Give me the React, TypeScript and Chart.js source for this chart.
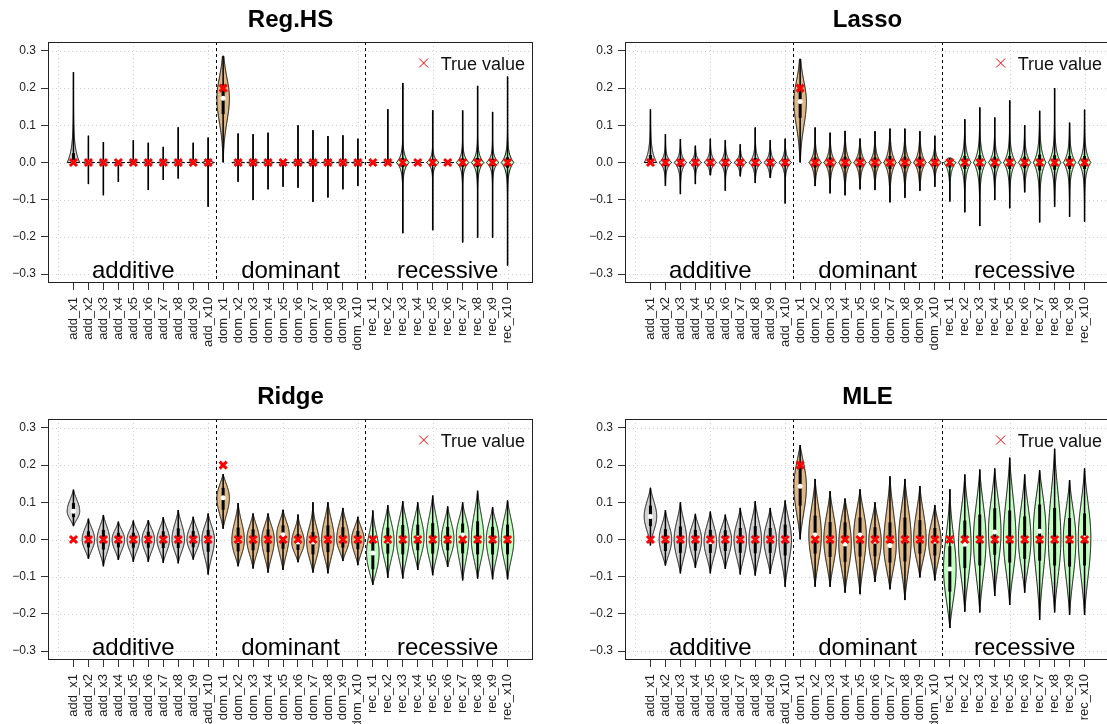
import React, { useEffect, useRef } from 'react';
import { Chart, registerables } from 'chart.js';

Chart.register(...registerables);

const FONT = "'Liberation Sans', Arial, Helvetica, sans-serif";

// ---------- data ----------
const categories = [
  'add_x1', 'add_x2', 'add_x3', 'add_x4', 'add_x5', 'add_x6', 'add_x7', 'add_x8', 'add_x9', 'add_x10',
  'dom_x1', 'dom_x2', 'dom_x3', 'dom_x4', 'dom_x5', 'dom_x6', 'dom_x7', 'dom_x8', 'dom_x9', 'dom_x10',
  'rec_x1', 'rec_x2', 'rec_x3', 'rec_x4', 'rec_x5', 'rec_x6', 'rec_x7', 'rec_x8', 'rec_x9', 'rec_x10',
];

const trueValues = [
  0, 0, 0, 0, 0, 0, 0, 0, 0, 0,
  0.2, 0, 0, 0, 0, 0, 0, 0, 0, 0,
  0, 0, 0, 0, 0, 0, 0, 0, 0, 0,
];

const groupNames = ['additive', 'dominant', 'recessive'];
const groupLabelPositions = [5, 15.5, 26];
const groupSeparators = [10.5, 20.5];
const groupColors = ['#d3d3d3', '#deb887', '#c1ffc1'];

const yTickValues = [-0.3, -0.2, -0.1, 0, 0.1, 0.2, 0.3];
const yTickLabels = ['\u22120.3', '\u22120.2', '\u22120.1', '0.0', '0.1', '0.2', '0.3'];
const xGridValues = [0, 5, 10, 15, 20, 25, 30];
const legendLabel = 'True value';

// Reg.HS
const regHsMin = [0, -0.058, -0.088, -0.052, 0, -0.074, -0.047, -0.043, 0, -0.119,
  0, -0.052, -0.101, -0.072, -0.065, -0.068, -0.106, -0.094, -0.072, -0.063,
  0, 0, -0.19, 0, -0.182, 0, -0.215, -0.202, -0.202, -0.277];
const regHsMax = [0.243, 0.072, 0.055, 0, 0.06, 0.053, 0.042, 0.095, 0.053, 0.067,
  0.286, 0.078, 0.076, 0.08, 0, 0.1, 0.087, 0.071, 0.073, 0.064,
  0, 0.143, 0.214, 0, 0.14, 0, 0.14, 0.206, 0.136, 0.231];
const regHsMedian = [0, 0, 0, 0, 0, 0, 0, 0, 0, 0,
  0.173, 0, 0, 0, 0, 0, 0, 0, 0, 0,
  0, 0, 0, 0, 0, 0, 0, 0, 0, 0];
const regHsQ1 = [0, -0.0015, -0.0015, -0.0015, 0, -0.0015, -0.0015, -0.0015, 0, -0.003,
  0.13, -0.0015, -0.002, -0.002, -0.0015, -0.0025, -0.0025, -0.002, -0.002, -0.002,
  0, 0, -0.0125, 0, -0.0085, 0, -0.011, -0.0125, -0.01, -0.014];
const regHsQ3 = [0.025, 0.0015, 0.0015, 0, 0.0015, 0.0015, 0.0015, 0.0015, 0.0015, 0.003,
  0.21, 0.0015, 0.002, 0.002, 0, 0.0025, 0.0025, 0.002, 0.002, 0.002,
  0, 0.0015, 0.0125, 0, 0.0085, 0, 0.011, 0.0125, 0.01, 0.014];

// Lasso
const lassoMin = [0, -0.063, -0.085, -0.058, -0.034, -0.076, -0.037, -0.055, -0.041, -0.11,
  0, -0.063, -0.083, -0.088, -0.072, -0.074, -0.107, -0.095, -0.076, -0.065,
  -0.105, -0.134, -0.171, -0.101, -0.123, -0.08, -0.161, -0.119, -0.146, -0.159];
const lassoMax = [0.143, 0.076, 0.063, 0.045, 0.064, 0.06, 0.049, 0.094, 0.06, 0.064,
  0.278, 0.094, 0.08, 0.085, 0.064, 0.084, 0.091, 0.091, 0.084, 0.072,
  0.012, 0.116, 0.148, 0.121, 0.167, 0.1, 0.139, 0.2, 0.107, 0.142];
const lassoMedian = [0, 0, 0, 0, 0, 0, 0, 0, 0, 0,
  0.164, 0, 0, 0, 0, 0, 0, 0, 0, 0,
  0, 0, 0, 0, 0, 0, 0, 0, 0, 0];
const lassoQ1 = [0, -0.01, -0.012, -0.008, -0.008, -0.01, -0.008, -0.01, -0.01, -0.01,
  0.12, -0.0135, -0.0135, -0.0155, -0.0135, -0.0135, -0.0175, -0.0155, -0.0155, -0.01,
  -0.0135, -0.0175, -0.0195, -0.0155, -0.0175, -0.0155, -0.0215, -0.0195, -0.0175, -0.0175];
const lassoQ3 = [0.02, 0.01, 0.01, 0.008, 0.01, 0.01, 0.008, 0.012, 0.01, 0.01,
  0.2, 0.0135, 0.0135, 0.0155, 0.0135, 0.0135, 0.0175, 0.0155, 0.0155, 0.01,
  0.006, 0.0175, 0.0195, 0.0155, 0.0175, 0.0155, 0.0215, 0.0195, 0.0175, 0.0175];

// Ridge
const ridgeMin = [0.036, -0.052, -0.072, -0.055, -0.06, -0.06, -0.063, -0.064, -0.054, -0.094,
  0.029, -0.072, -0.078, -0.089, -0.082, -0.061, -0.089, -0.091, -0.058, -0.069,
  -0.122, -0.103, -0.105, -0.082, -0.096, -0.074, -0.11, -0.105, -0.107, -0.107];
const ridgeMax = [0.134, 0.056, 0.066, 0.048, 0.051, 0.052, 0.06, 0.079, 0.061, 0.07,
  0.176, 0.098, 0.07, 0.07, 0.08, 0.067, 0.1, 0.1, 0.085, 0.061,
  0.078, 0.092, 0.103, 0.1, 0.118, 0.089, 0.1, 0.131, 0.087, 0.105];
const ridgeMedian = [0.076, 0, 0, 0, 0, 0, 0, 0, 0, 0,
  0.112, -0.002, 0, 0, 0.013, -0.007, -0.007, 0, 0, 0,
  -0.036, -0.004, 0, 0.004, 0, 0, 0.012, 0, 0, 0];
const ridgeQ1 = [0.06, -0.021, -0.027, -0.021, -0.022, -0.022, -0.023, -0.023, -0.021, -0.033,
  0.08, -0.032, -0.029, -0.034, -0.025, -0.028, -0.04, -0.034, -0.022, -0.026,
  -0.08, -0.038, -0.04, -0.029, -0.038, -0.029, -0.037, -0.04, -0.04, -0.04];
const ridgeQ3 = [0.098, 0.022, 0.026, 0.018, 0.018, 0.021, 0.022, 0.03, 0.023, 0.026,
  0.139, 0.032, 0.027, 0.027, 0.038, 0.015, 0.02, 0.038, 0.033, 0.023,
  0, 0.032, 0.039, 0.04, 0.044, 0.034, 0.043, 0.049, 0.034, 0.04];

// MLE
const mleMin = [-0.016, -0.07, -0.091, -0.076, -0.091, -0.079, -0.094, -0.097, -0.092, -0.127,
  0, -0.127, -0.127, -0.143, -0.147, -0.114, -0.134, -0.163, -0.102, -0.11,
  -0.238, -0.194, -0.196, -0.152, -0.176, -0.143, -0.216, -0.196, -0.203, -0.203];
const mleMax = [0.139, 0.079, 0.1, 0.069, 0.075, 0.067, 0.085, 0.103, 0.085, 0.105,
  0.254, 0.163, 0.13, 0.11, 0.135, 0.1, 0.17, 0.163, 0.144, 0.093,
  0.135, 0.175, 0.188, 0.191, 0.22, 0.175, 0.186, 0.244, 0.16, 0.191];
const mleMedian = [0.062, 0, 0, 0, -0.006, 0, 0, 0, 0, 0,
  0.143, 0.012, 0, -0.012, 0.012, -0.005, -0.016, 0, 0, -0.005,
  -0.079, -0.013, 0, 0.02, 0, 0, 0.022, 0, 0, 0.004];
const mleQ1 = [0.036, -0.031, -0.036, -0.03, -0.036, -0.031, -0.036, -0.037, -0.036, -0.043,
  0.091, -0.038, -0.047, -0.06, -0.046, -0.045, -0.062, -0.059, -0.038, -0.043,
  -0.14, -0.077, -0.07, -0.041, -0.062, -0.052, -0.057, -0.07, -0.073, -0.07];
const mleQ3 = [0.091, 0.028, 0.035, 0.026, 0.026, 0.025, 0.031, 0.036, 0.031, 0.04,
  0.193, 0.064, 0.047, 0.046, 0.059, 0.033, 0.046, 0.059, 0.052, 0.031,
  -0.018, 0.051, 0.067, 0.084, 0.078, 0.062, 0.094, 0.085, 0.058, 0.07];

type Panel = {
  title: string;
  min: number[];
  max: number[];
  median: number[];
  q1: number[];
  q3: number[];
  kernel: 'laplace' | 'gauss';
};

const panels: Panel[] = [
  { title: 'Reg.HS', min: regHsMin, max: regHsMax, median: regHsMedian, q1: regHsQ1, q3: regHsQ3, kernel: 'laplace' },
  { title: 'Lasso', min: lassoMin, max: lassoMax, median: lassoMedian, q1: lassoQ1, q3: lassoQ3, kernel: 'laplace' },
  { title: 'Ridge', min: ridgeMin, max: ridgeMax, median: ridgeMedian, q1: ridgeQ1, q3: ridgeQ3, kernel: 'gauss' },
  { title: 'MLE', min: mleMin, max: mleMax, median: mleMedian, q1: mleQ1, q3: mleQ3, kernel: 'gauss' },
];

// ---------- layout ----------
const PANEL_W = 577;
const PANEL_H = 377;
const VIOLIN_HALF = 0.42;

function kernelValue(z: number, kernel: string) {
  return kernel === 'gauss' ? Math.exp(-0.5 * z * z) : Math.exp(-z);
}

function drawViolin(ctx: CanvasRenderingContext2D, xs: any, ys: any, pos: number, lo: number, hi: number,
  med: number, q1: number, q3: number, panelKernel: string, color: string) {
  const cx = xs.getPixelForValue(pos);
  const halfPx = xs.getPixelForValue(pos + VIOLIN_HALF) - cx;
  ctx.lineWidth = 1;
  ctx.strokeStyle = '#000';
  if (hi - lo < 1e-9) {
    const py = ys.getPixelForValue(med);
    ctx.beginPath();
    ctx.moveTo(cx - halfPx, py);
    ctx.lineTo(cx + halfPx, py);
    ctx.stroke();
    return;
  }
  // spike-shaped kernel only for shrunk null effects; real effects get a rounded body
  const kernel = panelKernel === 'laplace' && Math.abs(med) > 0.05 ? 'gauss' : panelKernel;
  const tapered = panelKernel === 'gauss';
  const zq = kernel === 'gauss' ? 0.6745 : 0.6931;
  const sUp = (q3 - med) / zq;
  const sDn = (med - q1) / zq;
  const endUp = sUp > 0 && tapered ? kernelValue((hi - med) / sUp, kernel) : 0;
  const endDn = sDn > 0 && tapered ? kernelValue((med - lo) / sDn, kernel) : 0;
  const shape = (v: number) => {
    const up = v >= med;
    const s = up ? sUp : sDn;
    if (s <= 0) return Math.abs(v - med) < 1e-12 ? 1 : 0;
    const base = kernelValue(Math.abs(v - med) / s, kernel);
    const end = up ? endUp : endDn;
    return Math.max(0, (base - end) / (1 - end));
  };
  const N = 200;
  const vals: number[] = [];
  for (let k = 0; k <= N; k++) vals.push(lo + ((hi - lo) * k) / N);
  if (med > lo && med < hi) vals.push(med);
  vals.sort((a, b) => a - b);
  const f = vals.map(shape);
  const fmax = Math.max(...f, 1e-12);
  ctx.beginPath();
  vals.forEach((v, k) => {
    const px = cx - (halfPx * f[k]) / fmax;
    const py = ys.getPixelForValue(v);
    if (k === 0) ctx.moveTo(px, py); else ctx.lineTo(px, py);
  });
  for (let k = vals.length - 1; k >= 0; k--) {
    ctx.lineTo(cx + (halfPx * f[k]) / fmax, ys.getPixelForValue(vals[k]));
  }
  ctx.closePath();
  ctx.fillStyle = color;
  ctx.fill();
  ctx.stroke();
}

function makePlugin(panel: Panel) {
  return {
    id: 'panelDecor',
    beforeDatasetsDraw(chart: any) {
      const { ctx, chartArea, scales } = chart;
      const xs = scales.x;
      const ys = scales.y;
      const { left, right, top, bottom } = chartArea;
      ctx.save();
      // dotted grid
      ctx.lineWidth = 1;
      ctx.strokeStyle = '#cfcfcf';
      ctx.setLineDash([1, 3]);
      yTickValues.forEach((v) => {
        const py = Math.round(ys.getPixelForValue(v)) + 0.5;
        ctx.beginPath(); ctx.moveTo(left, py); ctx.lineTo(right, py); ctx.stroke();
      });
      xGridValues.forEach((v) => {
        const px = Math.round(xs.getPixelForValue(v)) + 0.5;
        ctx.beginPath(); ctx.moveTo(px, top); ctx.lineTo(px, bottom); ctx.stroke();
      });
      // group separators
      ctx.strokeStyle = '#000';
      ctx.setLineDash([3, 3]);
      groupSeparators.forEach((v) => {
        const px = Math.round(xs.getPixelForValue(v)) + 0.5;
        ctx.beginPath(); ctx.moveTo(px, top); ctx.lineTo(px, bottom); ctx.stroke();
      });
      ctx.setLineDash([]);
      // violins
      categories.forEach((_, i) => {
        drawViolin(ctx, xs, ys, i + 1, panel.min[i], panel.max[i], panel.median[i],
          panel.q1[i], panel.q3[i], panel.kernel, groupColors[Math.floor(i / 10)]);
      });
      // frame
      ctx.strokeStyle = '#222';
      ctx.lineWidth = 1;
      ctx.strokeRect(Math.round(left) + 0.5, Math.round(top) + 0.5,
        Math.round(right - left) - 1, Math.round(bottom - top) - 1);
      ctx.restore();
    },
    afterDatasetsDraw(chart: any) {
      const { ctx, chartArea, scales } = chart;
      const xs = scales.x;
      const ys = scales.y;
      const { left, right, top } = chartArea;
      ctx.save();
      // group labels
      ctx.fillStyle = '#000';
      ctx.font = `24px ${FONT}`;
      ctx.textAlign = 'center';
      ctx.textBaseline = 'alphabetic';
      groupNames.forEach((g, k) => {
        ctx.fillText(g, xs.getPixelForValue(groupLabelPositions[k]), ys.getPixelForValue(-0.3) + 4);
      });
      // title
      ctx.font = `bold 24px ${FONT}`;
      ctx.fillText(panel.title, (left + right) / 2, 27);
      // legend
      ctx.font = `18px ${FONT}`;
      ctx.textAlign = 'right';
      const tx = right - 8;
      ctx.fillStyle = '#111';
      ctx.fillText(legendLabel, tx, top + 28);
      const tw = ctx.measureText(legendLabel).width;
      const mx = tx - tw - 17;
      const my = top + 21;
      ctx.strokeStyle = '#ff0000';
      ctx.lineWidth = 1;
      ctx.beginPath();
      ctx.moveTo(mx - 4.5, my - 4.5); ctx.lineTo(mx + 4.5, my + 4.5);
      ctx.moveTo(mx + 4.5, my - 4.5); ctx.lineTo(mx - 4.5, my + 4.5);
      ctx.stroke();
      ctx.restore();
    },
  };
}

function ViolinPanel({ panel, left, top }: { panel: Panel; left: number; top: number }) {
  const ref = useRef<HTMLCanvasElement | null>(null);
  useEffect(() => {
    if (!ref.current) return;
    const xsPos = categories.map((_, i) => i + 1);
    const whiskers = xsPos.map((x, i) => ({ x, y: [panel.min[i], panel.max[i]] }));
    const boxes = xsPos.map((x, i) => ({ x, y: [panel.q1[i], panel.q3[i]] }));
    const medians = xsPos.map((x, i) => ({ x, y: panel.median[i] }));
    const truth = xsPos.map((x, i) => ({ x, y: trueValues[i] }));
    const chart = new Chart(ref.current, {
      type: 'bar',
      data: {
        datasets: [
          { type: 'bar', data: whiskers as any, backgroundColor: '#000', borderWidth: 0, inflateAmount: 0, barThickness: 1.5, grouped: false, order: 4 } as any,
          { type: 'bar', data: boxes as any, backgroundColor: '#000', borderWidth: 0, inflateAmount: 0, barThickness: 3, grouped: false, order: 3 } as any,
          { type: 'scatter', data: medians, pointStyle: 'circle', pointRadius: 2.5, backgroundColor: '#fff', borderColor: '#fff', borderWidth: 0, order: 2 } as any,
          { type: 'scatter', data: truth, pointStyle: 'crossRot', pointRadius: 5, borderColor: '#ff0000', backgroundColor: '#ff0000', borderWidth: 3, order: 1 } as any,
        ],
      },
      options: {
        responsive: false,
        animation: false,
        events: [],
        layout: { padding: { top: 42, right: 44, left: 0, bottom: 0 } },
        plugins: { legend: { display: false }, tooltip: { enabled: false }, title: { display: false } },
        scales: {
          x: {
            type: 'linear',
            min: -0.7,
            max: 31.7,
            offset: false,
            afterBuildTicks: (s: any) => { s.ticks = xsPos.map((v) => ({ value: v })); },
            afterFit: (s: any) => { s.height = 94; },
            ticks: {
              autoSkip: false,
              minRotation: 90,
              maxRotation: 90,
              padding: 7,
              color: '#222',
              font: { family: FONT, size: 13 },
              callback: (_v: any, i: number) => categories[i],
            },
            grid: { drawOnChartArea: false, drawTicks: true, tickLength: 7, color: '#333', offset: false },
            border: { display: false },
          },
          y: {
            type: 'linear',
            min: -0.324,
            max: 0.324,
            beginAtZero: false,
            afterBuildTicks: (s: any) => { s.ticks = yTickValues.map((v) => ({ value: v })); },
            afterFit: (s: any) => { s.width = 48; },
            ticks: {
              padding: 5,
              color: '#222',
              font: { family: FONT, size: 12 },
              callback: (_v: any, i: number) => yTickLabels[i],
            },
            grid: { drawOnChartArea: false, drawTicks: true, tickLength: 7, color: '#333' },
            border: { display: false },
          },
        },
      } as any,
      plugins: [makePlugin(panel)],
    });
    return () => chart.destroy();
  }, [panel]);
  return (
    <canvas
      ref={ref}
      width={PANEL_W}
      height={PANEL_H}
      style={{ position: 'absolute', left, top, width: PANEL_W, height: PANEL_H }}
    />
  );
}

export default function App() {
  return (
    <div style={{ position: 'absolute', left: 0, top: 0, width: 1107, height: 724, overflow: 'hidden', background: '#fff' }}>
      {panels.map((p, i) => (
        <ViolinPanel key={p.title} panel={p} left={(i % 2) * PANEL_W} top={Math.floor(i / 2) * PANEL_H} />
      ))}
    </div>
  );
}
